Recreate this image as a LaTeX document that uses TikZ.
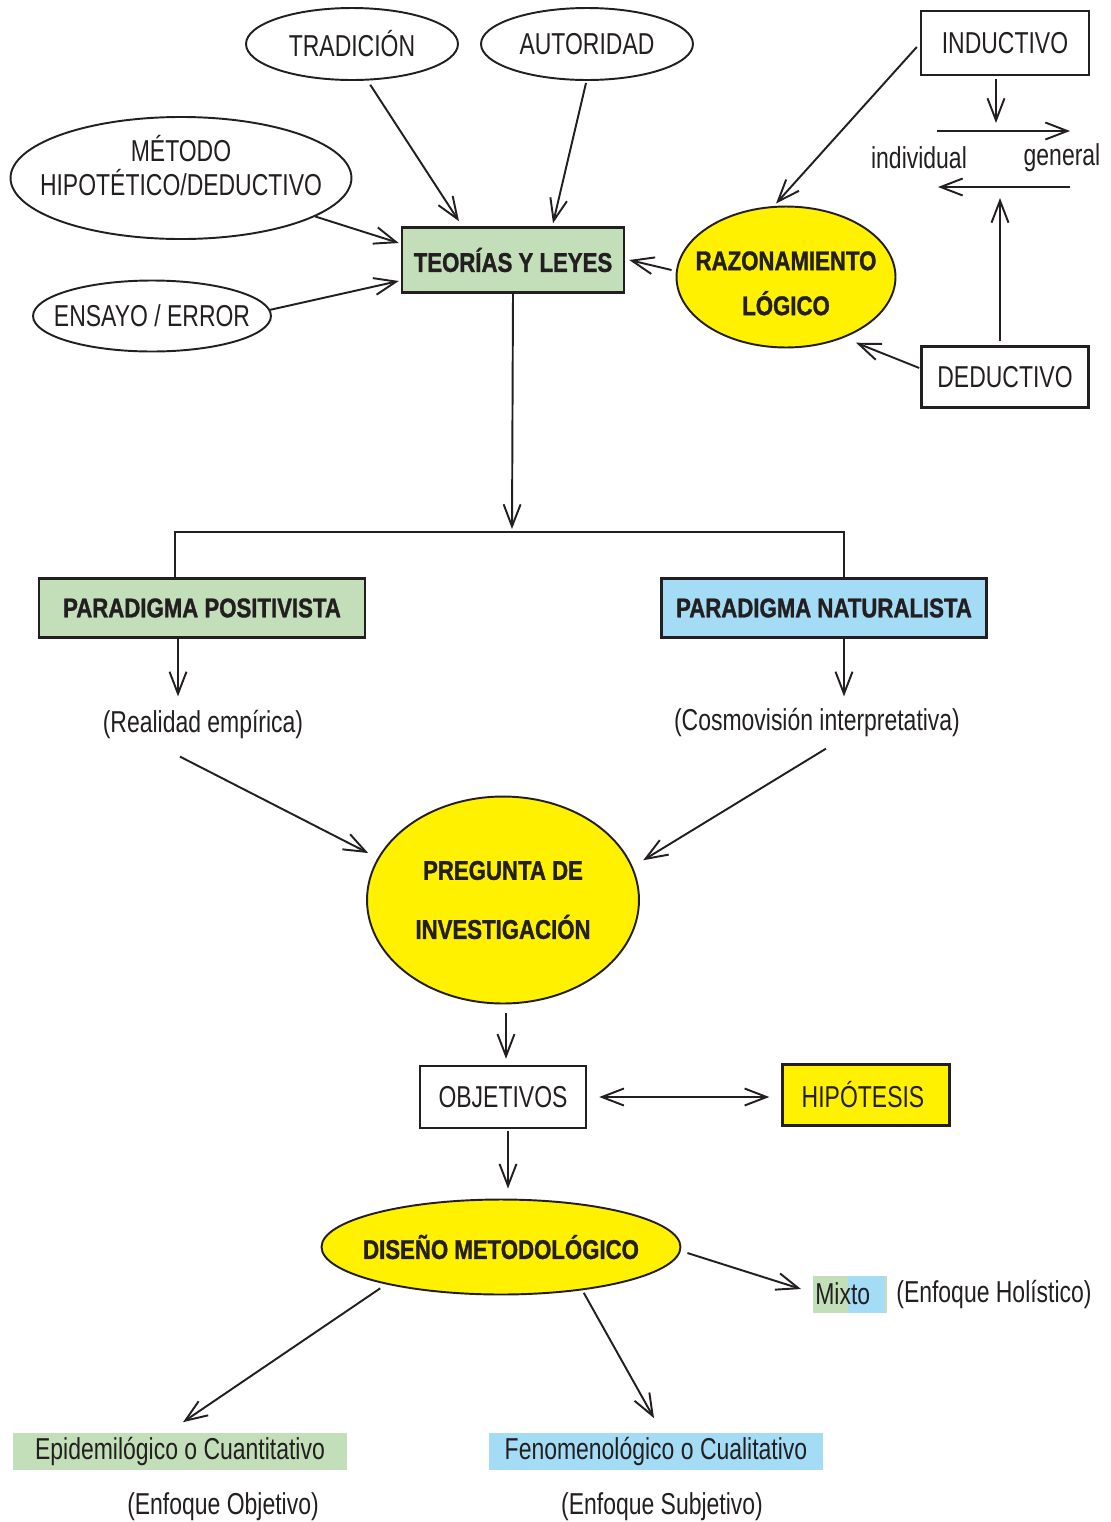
\documentclass[tikz,border=0pt]{standalone}
\usepackage{fontspec}
\setmainfont{Liberation Sans}[FakeStretch=0.76,BoldFeatures={FakeStretch=0.82,FakeBold=1.2}]
\usepackage{tikz}
\usetikzlibrary{
  shapes.geometric,
  arrows.meta,
  positioning, calc
}
\usepackage{xcolor}
\definecolor{inkdark}{RGB}{35,31,32}
\definecolor{sunyellow}{RGB}{255,241,0}
\definecolor{boxgreen}{RGB}{194,223,186}
\definecolor{boxblue}{RGB}{164,220,246}
\tikzset{
  txt/.style={font=\fontsize{17.2}{19.4}\selectfont,text=inkdark},
  bld/.style={font=\fontsize{15.4}{25.6}\selectfont\bfseries,text=inkdark},
  ovalnode/.style={ellipse,draw=inkdark,line width=1.1pt,inner sep=0pt,align=center,txt},
  boxnode/.style={rectangle,draw=inkdark,line width=1.4pt,inner sep=0pt,align=center,txt},
  tagnode/.style={rectangle,inner sep=0pt,minimum height=0.74cm,txt},
  arr/.style={-{Straight Barb[length=4.4mm,width=3.4mm]},line width=1.1pt,draw=inkdark},
  dblarr/.style={{Straight Barb[length=4.4mm,width=3.4mm]}-{Straight Barb[length=4.4mm,width=3.4mm]},line width=1.1pt,draw=inkdark},
  ln/.style={line width=1.1pt,draw=inkdark}
}
\newcommand{\nowidth}[1]{\makebox[0pt][c]{#1}}

\begin{document}
\begin{tikzpicture}[x=0.02cm,y=-0.02cm]
  \useasboundingbox (0,0) rectangle (1110,1522);

  \node[ovalnode,minimum width=4.24cm,minimum height=1.44cm] (trad) at (352,44) {TRADICIÓN};
  \node[ovalnode,minimum width=4.24cm,minimum height=1.44cm] (aut) at (587,44) {AUTORIDAD};
  \node[ovalnode,minimum width=6.82cm,minimum height=2.4cm,text depth=0.52cm] (met) at (181,178)
      {\nowidth{MÉTODO}\\\nowidth{HIPOTÉTICO/DEDUCTIVO}};
  \node[ovalnode,minimum width=4.76cm,minimum height=1.42cm] (ens) at (152,316) {\nowidth{ENSAYO / ERROR}};
  \node[boxnode,bld,fill=boxgreen,minimum width=4.44cm,minimum height=1.3cm] (teo) at (513,260) {TEORÍAS Y LEYES};
  \node[ovalnode,bld,fill=sunyellow,minimum width=4.38cm,minimum height=2.82cm,text height=1.53cm] (raz) at (786,277)
      {\nowidth{RAZONAMIENTO}\\\nowidth{LÓGICO}};
  \node[boxnode,minimum width=3.36cm,minimum height=1.28cm] (ind) at (1005,43) {INDUCTIVO};
  \node[boxnode,minimum width=3.34cm,minimum height=1.22cm] (ded) at (1005,377) {DEDUCTIVO};
  \node[txt,inner sep=0pt] (indiv) at (919,158) {individual};
  \node[txt,inner sep=0pt] (gen) at (1062,158) {general};
  \coordinate (ga) at (937,131);
  \coordinate (gb) at (1070,131);
  \coordinate (ha) at (1070,187);
  \coordinate (hb) at (938,187);

  \coordinate (split) at (512,532);
  \node[boxnode,bld,fill=boxgreen,minimum width=6.52cm,minimum height=1.18cm] (pos) at (202,608) {PARADIGMA POSITIVISTA};
  \node[boxnode,bld,fill=boxblue,minimum width=6.5cm,minimum height=1.18cm] (nat) at (824,608) {PARADIGMA NATURALISTA};
  \node[txt,inner sep=0pt] (rea) at (203,724) {(Realidad empírica)};
  \node[txt,inner sep=0pt] (cos) at (817,722) {(Cosmovisión interpretativa)};

  \node[ovalnode,bld,font=\fontsize{15.4}{33.6}\selectfont\bfseries,fill=sunyellow,minimum width=5.44cm,minimum height=4.14cm] (preg) at (503,900)
      {PREGUNTA DE\\INVESTIGACIÓN};
  \node[boxnode,minimum width=3.32cm,minimum height=1.24cm] (obj) at (503,1097) {OBJETIVOS};
  \node[boxnode,fill=sunyellow,minimum width=3.34cm,minimum height=1.22cm] (hip) at (866,1095) {HIPÓTESIS\hspace{0.12cm}};
  \node[ovalnode,bld,fill=sunyellow,minimum width=7.18cm,minimum height=1.9cm] (dis) at (501,1247)
      {\nowidth{DISEÑO METODOLÓGICO}};

  \node[tagnode,fill=boxgreen,minimum width=1.44cm,anchor=west,text width=1.4cm,inner xsep=0.04cm,
      path picture={\fill[boxblue] ($(path picture bounding box.south west)+(35,0)$) rectangle ($(path picture bounding box.north east)+(-2,0)$);}]
      (mix) at (813,1294) {Mixto};
  \node[txt,inner sep=0pt] (hol) at (994,1294) {(Enfoque Holístico)};
  \node[tagnode,fill=boxgreen,minimum width=6.7cm] (epi) at (180,1451) {Epidemilógico o Cuantitativo};
  \node[tagnode,fill=boxblue,minimum width=6.7cm] (fen) at (656,1451) {Fenomenológico o Cualitativo};
  \node[txt,inner sep=0pt] (obje) at (223,1507) {(Enfoque Objetivo)};
  \node[txt,inner sep=0pt] (subj) at (662,1507) {(Enfoque Subjetivo)};

  \draw[arr,shorten <=0.1cm] (trad.-67) -- ($(teo.north)+(-54,-5)$);
  \draw[arr] ($(aut.south)+(-1,2)$) -- ($(teo.north)+(40,-3)$);
  \draw[arr] (met.-16) -- ($(teo.west)+(-2,-17)$);
  \draw[arr] (ens.3) -- ($(teo.west)+(-2,21)$);
  \draw[arr] ($(raz.west)+(-4,-7)$) -- ($(teo.east)+(4,0)$);
  \draw[arr] ($(ind.west)+(-3,4)$) -- ($(raz.north)+(-10,-2)$);
  \draw[arr] ($(ded.west)+(-1,-9)$) -- ($(raz.-43)+(7,7)$);
  \draw[arr] ($(ind.south)+(-9,3)$) -- ($(ga)+(59,-8)$);
  \draw[arr] (ga) -- (gb);
  \draw[arr] (ha) -- (hb);
  \draw[arr] ($(ded.north)+(-5,-4)$) -- ($(hb)+(62,11)$);

  \draw[arr] (teo.south) -- ($(split)+(0,-3)$);
  \draw[ln] ($(pos.north)+(-27,0)$) |- (split) -| ($(nat.north)+(20,0)$);
  \draw[arr] ($(pos.south)+(-24,0)$) -- ($(rea.north)+(-25,-13)$);
  \draw[arr] ($(nat.south)+(20,0)$) -- ($(cos.north)+(27,-11)$);
  \draw[arr] ($(rea.south)+(-23,18)$) -- ($(preg.161)+(-10,-4)$);
  \draw[arr] ($(cos.south)+(9,12)$) -- ($(preg.16)+(12,-3)$);

  \draw[arr] ($(preg.south)+(3,9)$) -- ($(obj.north)+(3,-6)$);
  \draw[dblarr,shorten <=0.24cm,shorten >=0.24cm] (obj.east) -- (obj.east -| hip.west);
  \draw[arr] ($(obj.south)+(5,2)$) -- ($(dis.north)+(7,-10)$);
  \draw[arr] ($(dis.east)+(6,6)$) -- ($(mix.west)+(-12,-5)$);
  \draw[arr,shorten <=0.14cm] (dis.198) -- ($(epi.north)+(3,-10)$);
  \draw[arr,shorten <=0.06cm] (dis.-28) -- ($(fen.north)+(-2,-14)$);
\end{tikzpicture}
\end{document}
